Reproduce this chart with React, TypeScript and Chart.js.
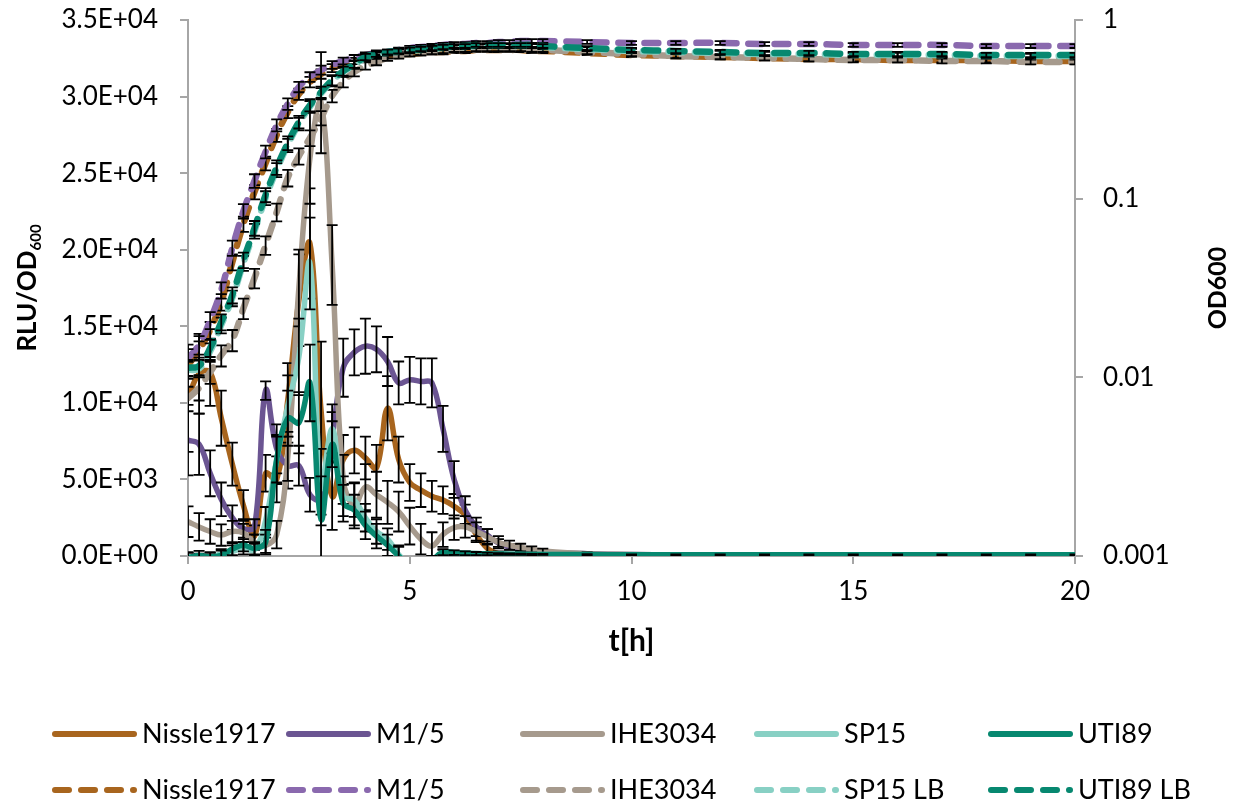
import React, { useEffect, useRef } from "react";
import { Chart, registerables } from "chart.js";

Chart.register(...registerables);

// ---------------- data ----------------
const timeH = [0, 0.25, 0.5, 0.75, 1, 1.25, 1.5, 1.75, 2, 2.25, 2.5, 2.75, 3, 3.25, 3.5, 3.75, 4, 4.25, 4.5, 4.75, 5, 5.25, 5.5, 5.75, 6, 6.25, 6.5, 6.75, 7, 7.25, 7.5, 7.75, 8, 9, 10, 11, 12, 13, 14, 15, 16, 17, 18, 19, 20];

const xTicks = [0, 5, 10, 15, 20];
const rluTicks = [0, 5000, 10000, 15000, 20000, 25000, 30000, 35000];
const odTicks = [0.001, 0.01, 0.1, 1];
const odTickLabels = ["0.001", "0.01", "0.1", "1"];

const legendLabels = ["Nissle1917", "M1/5", "IHE3034", "SP15", "UTI89", "Nissle1917", "M1/5", "IHE3034", "SP15 LB", "UTI89 LB"];

// RLU/OD600 (left axis)
const nissleRlu = [10300, 11900, 12000, 9000, 6000, 3300, 1300, 5400, 5000, 10200, 16700, 20400, 9500, 3900, 6300, 6900, 6400, 5750, 9650, 6300, 4800, 4300, 3900, 3650, 3250, 2650, 1400, 500, 150, 60, 30, 20, 10, 20, 20, 20, 20, 20, 20, 20, 20, 20, 20, 20, 20];
const m15Rlu = [7570, 7300, 5400, 3700, 2500, 1800, 1900, 10800, 7000, 5900, 5900, 4000, 3700, 7800, 12300, 13300, 13700, 13500, 12700, 11300, 11500, 11400, 11300, 8300, 5000, 3000, 1900, 1350, 850, 600, 450, 330, 250, 150, 100, 80, 70, 60, 60, 50, 50, 50, 50, 50, 50];
const iheRlu = [2240, 1900, 1600, 1370, 1600, 1500, 900, 700, 1400, 6500, 17500, 26000, 29600, 19000, 5000, 3300, 4500, 4000, 3500, 2900, 1950, 1100, 650, 1400, 1850, 1900, 1600, 1250, 900, 700, 550, 430, 330, 150, 100, 80, 70, 60, 60, 50, 50, 50, 50, 50, 50];
const sp15Rlu = [-50, -150, -100, 150, 300, 500, 400, 2300, 6300, 9800, 13000, 19100, 4500, 8300, 3900, 3650, 2500, 1600, 1100, 100, -600, -800, -300, 200, 200, 170, 150, 130, 120, 110, 100, 100, 90, 80, 70, 70, 70, 70, 70, 70, 70, 70, 70, 70, 70];
const utiRlu = [-100, 30, -50, 50, 450, 700, 500, 900, 6300, 9000, 8700, 11300, 2400, 7300, 3450, 3000, 2000, 1300, 700, 0, -600, -800, -300, 250, 220, 180, 160, 140, 130, 120, 110, 100, 100, 90, 80, 80, 80, 80, 80, 80, 80, 80, 80, 80, 80];

const nissleRluErr = [3500, 2600, 2200, 1800, 1400, 1000, 700, 1200, 1500, 2400, 3000, 3600, 4500, 2200, 1600, 1500, 1400, 1500, 2100, 1500, 1200, 1100, 1000, 900, 800, 700, 500, 300, 150, 80, 60, 40, 30, 20, 20, 20, 20, 20, 20, 20, 20, 20, 20, 20, 20];
const m15RluErr = [2300, 2000, 1500, 1100, 800, 600, 500, 600, 1600, 1500, 1300, 1100, 1000, 1600, 1900, 1500, 1800, 1500, 1600, 1400, 1500, 1500, 1600, 1500, 1200, 900, 600, 400, 250, 180, 120, 90, 70, 40, 30, 30, 30, 30, 30, 30, 30, 30, 30, 30, 30];
const iheRluErr = [1000, 900, 800, 700, 700, 600, 500, 500, 900, 1600, 2500, 3000, 3300, 2600, 1600, 1500, 1500, 1500, 1400, 1300, 1200, 1000, 900, 800, 800, 700, 600, 500, 400, 300, 250, 200, 150, 80, 50, 40, 40, 40, 40, 40, 40, 40, 40, 40, 40];
const sp15RluErr = [300, 300, 300, 300, 400, 400, 400, 900, 1600, 2000, 2500, 3000, 2500, 1600, 1300, 1100, 900, 800, 700, 600, 500, 400, 300, 200, 150, 120, 100, 80, 60, 50, 40, 40, 30, 30, 30, 30, 30, 30, 30, 30, 30, 30, 30, 30, 30];
const utiRluErr = [300, 300, 300, 300, 400, 400, 400, 800, 1500, 1800, 2000, 2500, 2800, 1500, 1200, 1000, 900, 800, 700, 600, 500, 400, 300, 200, 150, 120, 100, 80, 60, 50, 40, 40, 30, 30, 30, 30, 30, 30, 30, 30, 30, 30, 30, 30, 30];

// OD600 (right, log axis)
const nissleOd = [0.0117, 0.0142, 0.0184, 0.0264, 0.0442, 0.0722, 0.109, 0.158, 0.227, 0.306, 0.385, 0.450, 0.499, 0.539, 0.567, 0.590, 0.613, 0.621, 0.629, 0.637, 0.645, 0.654, 0.662, 0.662, 0.671, 0.671, 0.680, 0.680, 0.680, 0.680, 0.680, 0.671, 0.671, 0.654, 0.637, 0.629, 0.621, 0.613, 0.605, 0.605, 0.597, 0.597, 0.597, 0.590, 0.590];
const m15Od = [0.0128, 0.0152, 0.0209, 0.0308, 0.0530, 0.0853, 0.126, 0.183, 0.258, 0.339, 0.422, 0.480, 0.525, 0.560, 0.590, 0.613, 0.637, 0.654, 0.662, 0.680, 0.697, 0.706, 0.715, 0.725, 0.734, 0.734, 0.744, 0.744, 0.753, 0.753, 0.763, 0.763, 0.763, 0.753, 0.744, 0.744, 0.744, 0.734, 0.734, 0.725, 0.725, 0.725, 0.715, 0.715, 0.715];
const iheOd = [0.00766, 0.00872, 0.0107, 0.0133, 0.0162, 0.0244, 0.0360, 0.0550, 0.0842, 0.131, 0.173, 0.219, 0.283, 0.376, 0.450, 0.512, 0.553, 0.582, 0.613, 0.629, 0.645, 0.654, 0.662, 0.671, 0.680, 0.680, 0.688, 0.688, 0.688, 0.688, 0.688, 0.680, 0.680, 0.662, 0.645, 0.629, 0.621, 0.613, 0.605, 0.597, 0.597, 0.590, 0.590, 0.582, 0.582];
const sp15Od = [0.0110, 0.0112, 0.0140, 0.0196, 0.0278, 0.0436, 0.0660, 0.101, 0.145, 0.199, 0.262, 0.327, 0.388, 0.455, 0.512, 0.561, 0.613, 0.637, 0.654, 0.662, 0.671, 0.680, 0.688, 0.697, 0.706, 0.706, 0.715, 0.715, 0.715, 0.715, 0.715, 0.715, 0.706, 0.688, 0.671, 0.662, 0.654, 0.645, 0.645, 0.637, 0.637, 0.637, 0.629, 0.629, 0.629];
const utiOd = [0.0113, 0.0116, 0.0146, 0.0204, 0.0289, 0.0454, 0.0685, 0.105, 0.150, 0.205, 0.269, 0.334, 0.395, 0.461, 0.518, 0.567, 0.621, 0.645, 0.662, 0.671, 0.680, 0.688, 0.697, 0.706, 0.715, 0.715, 0.725, 0.725, 0.725, 0.725, 0.725, 0.725, 0.715, 0.697, 0.680, 0.671, 0.662, 0.654, 0.654, 0.645, 0.645, 0.645, 0.637, 0.637, 0.637];

const nissleOdErr = [0.0015, 0.0017, 0.0020, 0.0028, 0.0045, 0.0070, 0.0100, 0.0140, 0.019, 0.024, 0.028, 0.030, 0.030, 0.028, 0.026, 0.024, 0.022, 0.021, 0.020, 0.020, 0.020, 0.019, 0.019, 0.019, 0.018, 0.018, 0.018, 0.018, 0.018, 0.018, 0.018, 0.018, 0.018, 0.018, 0.018, 0.018, 0.018, 0.018, 0.018, 0.018, 0.018, 0.018, 0.018, 0.018, 0.018];
const m15OdErr = [0.0016, 0.0018, 0.0023, 0.0032, 0.0052, 0.0080, 0.0110, 0.0150, 0.020, 0.025, 0.028, 0.030, 0.030, 0.028, 0.026, 0.024, 0.022, 0.021, 0.020, 0.020, 0.020, 0.019, 0.019, 0.019, 0.018, 0.018, 0.018, 0.018, 0.018, 0.018, 0.018, 0.018, 0.018, 0.018, 0.018, 0.018, 0.018, 0.018, 0.018, 0.018, 0.018, 0.018, 0.018, 0.018, 0.018];
const iheOdErr = [0.0012, 0.0013, 0.0015, 0.0018, 0.0022, 0.0032, 0.0045, 0.0065, 0.0095, 0.014, 0.018, 0.022, 0.026, 0.030, 0.030, 0.028, 0.026, 0.024, 0.022, 0.021, 0.020, 0.020, 0.019, 0.019, 0.018, 0.018, 0.018, 0.018, 0.018, 0.018, 0.018, 0.018, 0.018, 0.018, 0.018, 0.018, 0.018, 0.018, 0.018, 0.018, 0.018, 0.018, 0.018, 0.018, 0.018];
const sp15OdErr = [0.0012, 0.0012, 0.0015, 0.0020, 0.0028, 0.0042, 0.0062, 0.0090, 0.013, 0.017, 0.021, 0.025, 0.028, 0.030, 0.030, 0.028, 0.025, 0.023, 0.021, 0.020, 0.020, 0.019, 0.019, 0.019, 0.018, 0.018, 0.018, 0.018, 0.018, 0.018, 0.018, 0.018, 0.018, 0.018, 0.018, 0.018, 0.018, 0.018, 0.018, 0.018, 0.018, 0.018, 0.018, 0.018, 0.018];
const utiOdErr = [0.0012, 0.0013, 0.0016, 0.0021, 0.0030, 0.0045, 0.0065, 0.0095, 0.014, 0.018, 0.022, 0.026, 0.029, 0.030, 0.030, 0.028, 0.025, 0.023, 0.021, 0.020, 0.020, 0.019, 0.019, 0.019, 0.018, 0.018, 0.018, 0.018, 0.018, 0.018, 0.018, 0.018, 0.018, 0.018, 0.018, 0.018, 0.018, 0.018, 0.018, 0.018, 0.018, 0.018, 0.018, 0.018, 0.018];

// ---------------- styles ----------------
const C_NISSLE = "#A8651E";
const C_M15 = "#6B5592";
const C_M15_LB = "#8A69AE";
const C_IHE = "#A69A8D";
const C_SP15 = "#88D0C4";
const C_UTI = "#078870";
const AXIS_GREY = "#A6A6A6";
const FONT = "Lato, 'Open Sans', 'Liberation Sans', sans-serif";
const DASH = [14, 12];

type S = { label: string; values: number[]; errors: number[]; axis: string; color: string; dashed: boolean };

const series: S[] = [
  { label: legendLabels[0], values: nissleRlu, errors: nissleRluErr, axis: "y", color: C_NISSLE, dashed: false },
  { label: legendLabels[1], values: m15Rlu, errors: m15RluErr, axis: "y", color: C_M15, dashed: false },
  { label: legendLabels[2], values: iheRlu, errors: iheRluErr, axis: "y", color: C_IHE, dashed: false },
  { label: legendLabels[3], values: sp15Rlu, errors: sp15RluErr, axis: "y", color: C_SP15, dashed: false },
  { label: legendLabels[4], values: utiRlu, errors: utiRluErr, axis: "y", color: C_UTI, dashed: false },
  { label: legendLabels[5], values: nissleOd, errors: nissleOdErr, axis: "yOD", color: C_NISSLE, dashed: true },
  { label: legendLabels[6], values: m15Od, errors: m15OdErr, axis: "yOD", color: C_M15_LB, dashed: true },
  { label: legendLabels[7], values: iheOd, errors: iheOdErr, axis: "yOD", color: C_IHE, dashed: true },
  { label: legendLabels[8], values: sp15Od, errors: sp15OdErr, axis: "yOD", color: C_SP15, dashed: true },
  { label: legendLabels[9], values: utiOd, errors: utiOdErr, axis: "yOD", color: C_UTI, dashed: true },
];

const fmtSci = (v: number) => {
  if (v === 0) return "0.0E+00";
  const e = Math.floor(Math.log10(Math.abs(v)) + 1e-9);
  const m = v / Math.pow(10, e);
  return m.toFixed(1) + "E+" + String(e).padStart(2, "0");
};

const errorBarPlugin = {
  id: "errorBars",
  afterDatasetDraw(chart: any, args: any) {
    const s = series[args.index];
    if (!s) return;
    const xs = chart.scales.x;
    const ys = chart.scales[s.axis];
    const area = chart.chartArea;
    const ctx = chart.ctx;
    ctx.save();
    ctx.beginPath();
    ctx.rect(area.left, area.top, area.right - area.left, area.bottom - area.top);
    ctx.clip();
    ctx.strokeStyle = "#000";
    ctx.lineWidth = 1.8;
    ctx.setLineDash([]);
    const cap = 5.5;
    timeH.forEach((t, j) => {
      const v = s.values[j];
      const e = s.errors[j];
      if (!e) return;
      const x = xs.getPixelForValue(t);
      const lo = s.axis === "yOD" ? Math.max(v - e, 1e-4) : v - e;
      const y1 = ys.getPixelForValue(v + e);
      const y2 = ys.getPixelForValue(lo);
      ctx.beginPath();
      ctx.moveTo(x, y1);
      ctx.lineTo(x, y2);
      ctx.moveTo(x - cap, y1);
      ctx.lineTo(x + cap, y1);
      ctx.moveTo(x - cap, y2);
      ctx.lineTo(x + cap, y2);
      ctx.stroke();
    });
    ctx.restore();
  },
};

const decorPlugin = {
  id: "decor",
  afterDraw(chart: any) {
    const ctx = chart.ctx;
    const area = chart.chartArea;
    const midY = (area.top + area.bottom) / 2;
    ctx.save();
    ctx.fillStyle = "#000";
    // left axis title with subscript
    ctx.save();
    ctx.translate(28, midY);
    ctx.rotate(-Math.PI / 2);
    ctx.font = `bold 26px ${FONT}`;
    const main = "RLU/OD";
    const w1 = ctx.measureText(main).width;
    ctx.font = `bold 15px ${FONT}`;
    const w2 = ctx.measureText("600").width;
    const start = -(w1 + w2) / 2;
    ctx.textBaseline = "middle";
    ctx.textAlign = "left";
    ctx.font = `bold 26px ${FONT}`;
    ctx.fillText(main, start, 0);
    ctx.font = `bold 15px ${FONT}`;
    ctx.fillText("600", start + w1, 8);
    ctx.restore();
    // right axis title
    ctx.save();
    ctx.translate(1218, midY);
    ctx.rotate(-Math.PI / 2);
    ctx.font = `bold 25px ${FONT}`;
    ctx.textAlign = "center";
    ctx.textBaseline = "middle";
    ctx.fillText("OD600", 0, 0);
    ctx.restore();
    // x title
    ctx.font = `bold 30px ${FONT}`;
    ctx.textAlign = "center";
    ctx.textBaseline = "middle";
    ctx.fillText("t[h]", (area.left + area.right) / 2, 641);
    // legend
    series.forEach((s, i) => {
      const col = i % 5;
      const row = Math.floor(i / 5);
      const x0 = 52 + col * 234;
      const y = row === 0 ? 734 : 790;
      ctx.save();
      ctx.strokeStyle = s.color;
      ctx.lineWidth = 6;
      ctx.lineCap = "round";
      ctx.setLineDash(s.dashed ? DASH : []);
      ctx.beginPath();
      ctx.moveTo(x0 + 3, y);
      ctx.lineTo(x0 + 82, y);
      ctx.stroke();
      ctx.restore();
      ctx.font = `27px ${FONT}`;
      ctx.textAlign = "left";
      ctx.textBaseline = "middle";
      ctx.fillStyle = "#000";
      ctx.fillText(s.label, x0 + 90, y);
    });
    ctx.restore();
  },
};

const noVPad = (sc: any, w: number) => {
  sc.width = w;
  sc.paddingTop = 0;
  sc.paddingBottom = 0;
};

export default function App() {
  const ref = useRef<HTMLCanvasElement | null>(null);
  useEffect(() => {
    document.body.style.margin = "0";
    if (!ref.current) return;
    const datasets = series.map((s, i) => ({
      label: s.label,
      data: timeH.map((t, j) => ({ x: t, y: s.values[j] })),
      yAxisID: s.axis,
      borderColor: s.color,
      backgroundColor: s.color,
      borderWidth: s.dashed ? 6.5 : 5.5,
      borderDash: s.dashed ? DASH : [],
      borderCapStyle: "round",
      borderJoinStyle: "round",
      pointRadius: 0,
      pointHoverRadius: 0,
      tension: 0.4,
      fill: false,
      order: series.length - i,
    }));
    const tickFont = { family: FONT, size: 26 };
    const chart = new Chart(ref.current, {
      type: "line",
      data: { datasets: datasets as any },
      plugins: [errorBarPlugin, decorPlugin],
      options: {
        animation: false,
        responsive: true,
        maintainAspectRatio: false,
        layout: { padding: { top: 20, left: 0, right: 0, bottom: 0 } },
        plugins: { legend: { display: false }, tooltip: { enabled: false }, title: { display: false } },
        scales: {
          x: {
            type: "linear",
            min: 0,
            max: 20,
            afterBuildTicks: (sc: any) => {
              sc.ticks = xTicks.map((v) => ({ value: v }));
            },
            afterFit: (sc: any) => {
              sc.height = 251;
            },
            ticks: { font: tickFont, color: "#000", padding: 12, maxRotation: 0, autoSkip: false },
            grid: { drawOnChartArea: false, drawTicks: true, tickLength: 8, color: AXIS_GREY, lineWidth: 2 },
            border: { display: true, color: AXIS_GREY, width: 2 },
          },
          y: {
            type: "linear",
            position: "left",
            min: 0,
            max: 35000,
            afterBuildTicks: (sc: any) => {
              sc.ticks = rluTicks.map((v) => ({ value: v }));
            },
            afterFit: (sc: any) => noVPad(sc, 188),
            ticks: { font: tickFont, color: "#000", padding: 22, autoSkip: false, callback: (v: any) => fmtSci(Number(v)) },
            grid: { drawOnChartArea: false, drawTicks: true, tickLength: 8, color: AXIS_GREY, lineWidth: 2 },
            border: { display: true, color: AXIS_GREY, width: 2 },
          },
          yOD: {
            type: "logarithmic",
            position: "right",
            min: 0.001,
            max: 1,
            afterBuildTicks: (sc: any) => {
              sc.ticks = odTicks.map((v) => ({ value: v }));
            },
            afterFit: (sc: any) => noVPad(sc, 167),
            ticks: {
              font: tickFont,
              color: "#000",
              padding: 20,
              autoSkip: false,
              callback: (v: any) => {
                const k = odTicks.findIndex((t) => Math.abs(t - Number(v)) < t * 1e-6);
                return k >= 0 ? odTickLabels[k] : "";
              },
            },
            grid: { drawOnChartArea: false, drawTicks: true, tickLength: 8, color: AXIS_GREY, lineWidth: 2 },
            border: { display: true, color: AXIS_GREY, width: 2 },
          },
        },
      } as any,
    });
    return () => chart.destroy();
  }, []);
  return (
    <div style={{ position: "relative", width: 1242, height: 807 }}>
      <canvas ref={ref} />
    </div>
  );
}
